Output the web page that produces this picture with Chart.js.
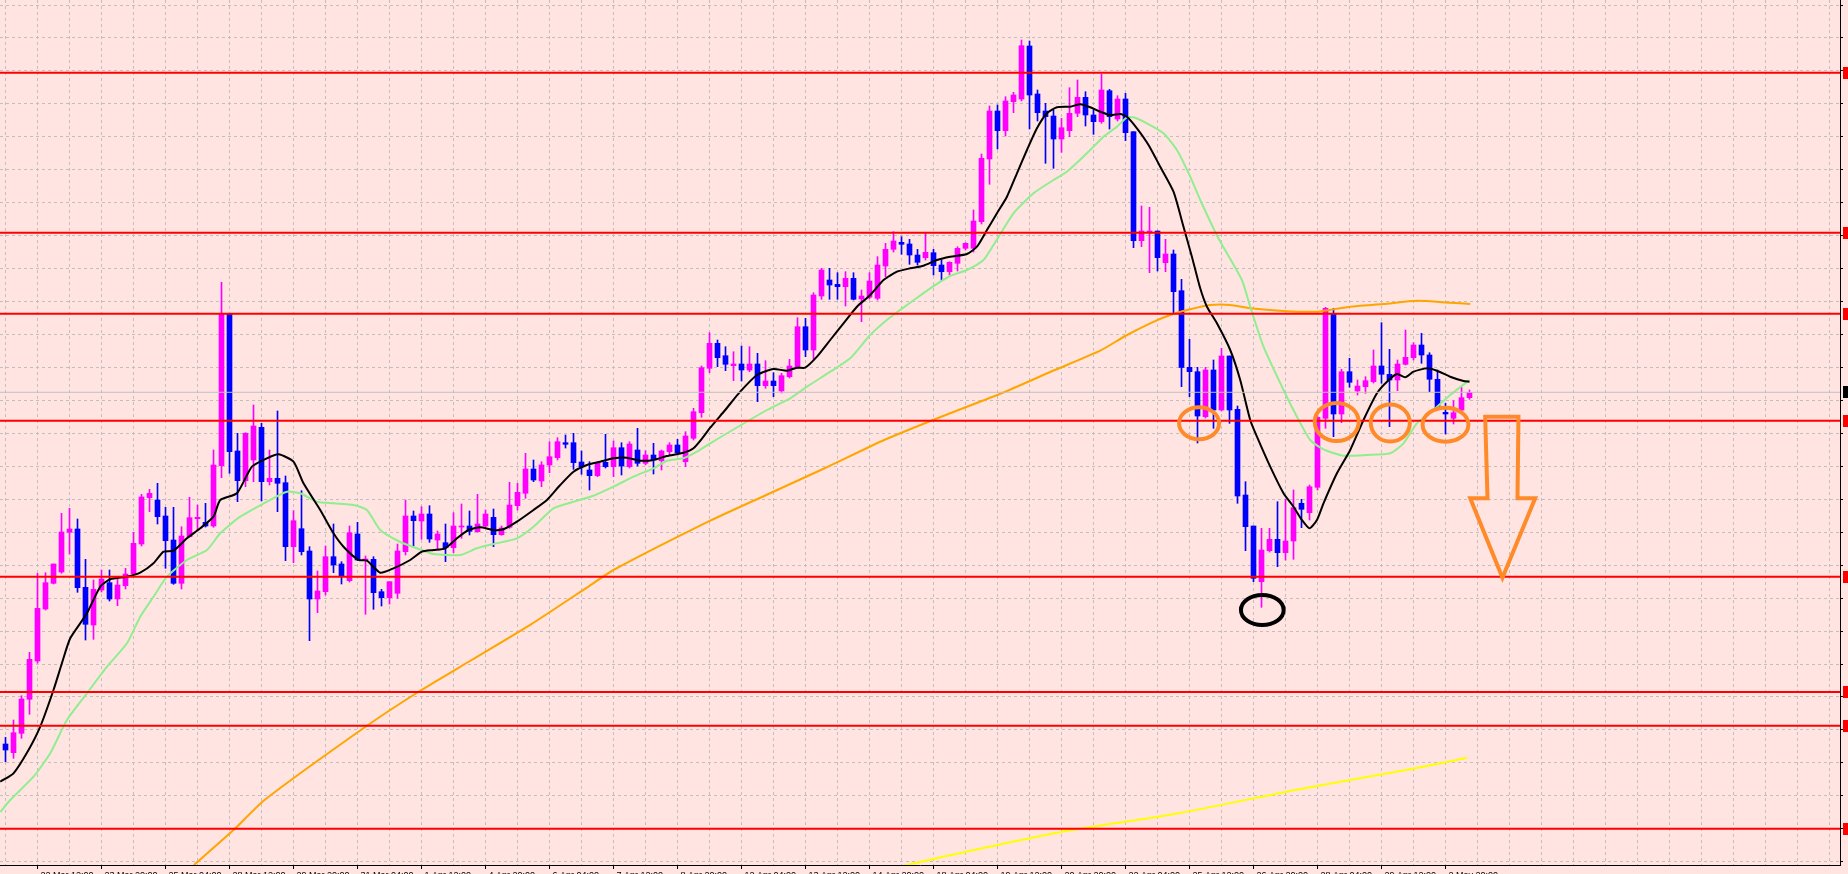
<!DOCTYPE html>
<html><head><meta charset="utf-8">
<script src="https://cdn.jsdelivr.net/npm/chart.js@4.4.1/dist/chart.umd.min.js"></script>
<style>
html,body{margin:0;padding:0;overflow:hidden;background:#FFE4E1;}
#wrap{width:1848px;height:874px;overflow:hidden;position:relative;}
canvas{display:block;}
</style></head><body>
<div id="wrap"><canvas id="c" width="1900" height="900"></canvas></div>
<script>
// ---- candle data (H4 bars, oldest first) ----
const opens = [132.56,132.473,132.667,133.007,133.39,133.91,134.167,134.28,134.677,134.71,
134.127,133.75,134.10,134.173,134.01,134.143,134.26,134.56,135.023,135.0,
134.84,134.60,134.167,134.633,134.813,134.777,134.74,135.343,136.857,135.49,
135.193,135.40,135.727,135.183,135.217,135.173,134.533,134.713,134.49,134.01,
134.083,134.433,134.36,134.193,134.66,134.40,134.407,134.083,134.023,134.067,
134.483,134.84,134.79,134.86,134.60,134.573,134.523,134.73,134.74,134.683,
134.74,134.827,134.653,134.727,134.943,135.067,135.31,135.19,135.35,135.423,
135.573,135.573,135.38,135.30,135.243,135.377,135.333,135.523,135.333,135.50,
135.367,135.45,135.393,135.483,135.55,135.383,135.617,135.873,136.317,136.567,
136.443,136.343,136.36,136.30,136.36,136.143,136.19,136.09,136.233,136.333,
136.733,136.50,137.04,137.20,137.157,137.133,137.217,137.01,137.027,137.017,
137.34,137.507,137.577,137.56,137.45,137.423,137.473,137.35,137.283,137.367,
137.517,137.517,137.783,138.41,138.89,138.693,138.983,139.01,139.54,139.06,
138.89,138.84,138.61,138.693,138.867,139.027,138.85,138.783,139.093,138.81,
139.01,138.683,137.593,137.673,137.69,137.373,137.46,137.093,136.327,136.283,
135.833,136.30,135.90,136.44,135.907,135.05,134.74,134.183,134.493,134.607,
134.473,134.59,134.967,134.873,135.127,135.817,136.867,135.86,136.283,136.09,
136.133,136.183,136.34,136.257,136.20,136.357,136.423,136.55,136.45,136.207,
135.877,135.817,135.90,136.023];
const highs = [132.627,132.80,133.043,133.477,134.267,134.273,134.36,134.867,134.917,134.81,
134.407,134.20,134.30,134.30,134.233,134.317,134.677,135.057,135.107,135.167,
134.927,134.927,134.733,135.027,134.95,134.967,135.50,137.177,136.857,135.667,
135.673,135.95,135.767,135.50,135.89,135.24,134.893,135.093,134.533,134.29,
134.54,134.76,134.383,134.74,134.777,134.44,134.433,134.107,134.183,134.56,
135.0,134.89,134.933,134.943,134.69,134.76,134.873,134.96,134.89,135.057,
134.90,134.91,134.74,135.177,135.167,135.467,135.40,135.383,135.583,135.623,
135.65,135.667,135.49,135.383,135.383,135.657,135.59,135.573,135.583,135.717,
135.493,135.567,135.50,135.573,135.607,135.683,135.917,136.34,136.673,136.60,
136.533,136.483,136.54,136.533,136.467,136.393,136.273,136.267,136.407,136.823,
136.817,137.073,137.317,137.317,137.273,137.283,137.273,137.10,137.273,137.433,
137.567,137.683,137.633,137.607,137.507,137.667,137.507,137.40,137.383,137.533,
137.573,137.90,138.46,138.94,138.95,139.033,139.077,139.60,139.59,139.10,
138.967,138.90,138.817,139.123,139.20,139.083,138.90,139.26,139.107,139.043,
139.067,138.683,137.94,137.927,137.69,137.607,137.50,137.207,136.607,136.327,
136.327,136.40,136.517,136.44,135.94,135.183,134.74,134.717,134.717,134.983,
135.007,135.10,135.007,135.15,135.84,136.927,136.917,136.307,136.417,136.20,
136.233,136.50,136.773,136.507,136.40,136.70,136.573,136.667,136.473,136.30,
135.967,135.993,136.127,136.10];
const lows = [132.383,132.417,132.617,132.857,133.367,133.90,134.16,134.267,134.46,134.077,
133.60,133.607,134.08,133.99,133.943,134.11,134.25,134.54,134.883,134.76,
134.317,134.157,134.11,134.63,134.70,134.73,134.727,135.223,135.267,134.983,
135.133,135.183,134.99,135.15,134.883,134.393,134.373,134.45,133.593,133.873,
134.05,134.273,134.16,134.18,134.393,133.857,133.907,133.94,133.96,134.017,
134.45,134.54,134.607,134.577,134.507,134.383,134.473,134.617,134.65,134.677,
134.733,134.533,134.647,134.717,134.90,135.017,135.183,135.133,135.273,135.40,
135.52,135.307,135.257,135.10,135.233,135.32,135.233,135.25,135.32,135.34,
135.35,135.26,135.30,135.45,135.45,135.333,135.60,135.827,136.273,136.333,
136.293,136.193,136.19,136.283,135.983,136.117,136.033,136.07,136.22,136.32,
136.433,136.407,137.007,137.007,137.007,136.94,137.0,136.783,137.01,137.0,
137.233,137.48,137.457,137.357,137.35,137.40,137.25,137.193,137.25,137.29,
137.50,137.48,137.76,138.157,138.51,138.64,138.873,138.99,138.71,138.79,
138.367,138.317,138.477,138.633,138.833,138.74,138.657,138.767,138.71,138.79,
138.593,137.523,137.533,137.273,137.29,137.283,136.867,136.133,136.033,135.57,
135.82,135.717,135.89,135.767,134.967,134.493,134.183,133.927,134.48,134.333,
134.40,134.407,134.723,134.80,135.10,135.717,135.633,135.773,136.127,136.05,
136.067,136.17,136.167,135.733,136.093,136.35,136.40,136.367,136.083,135.90,
135.66,135.76,135.88,136.007];
const closes = [132.50,132.673,133.01,133.407,133.917,134.173,134.36,134.68,134.71,134.123,
133.757,134.107,134.21,134.01,134.15,134.26,134.567,135.03,135.067,134.833,
134.593,134.167,134.64,134.823,134.827,134.74,135.35,136.857,135.483,135.193,
135.667,135.74,135.183,135.217,135.167,134.533,134.793,134.483,134.01,134.09,
134.433,134.35,134.233,134.673,134.40,134.41,134.073,134.023,134.183,134.49,
134.84,134.793,134.86,134.61,134.66,134.523,134.74,134.74,134.687,134.76,
134.86,134.653,134.72,134.95,135.077,135.31,135.20,135.35,135.433,135.583,
135.557,135.373,135.333,135.243,135.367,135.333,135.523,135.34,135.56,135.367,
135.45,135.40,135.49,135.55,135.473,135.64,135.883,136.323,136.567,136.423,
136.357,136.36,136.30,136.36,136.143,136.19,136.143,136.243,136.34,136.733,
136.50,137.05,137.30,137.15,137.133,137.217,137.007,137.04,137.19,137.35,
137.507,137.59,137.557,137.45,137.377,137.477,137.343,137.283,137.377,137.517,
137.567,137.79,138.417,138.89,138.693,138.99,139.05,139.543,139.05,138.873,
138.833,138.61,138.723,138.867,139.027,138.85,138.783,139.10,138.833,139.01,
138.673,137.593,137.69,137.69,137.423,137.46,137.083,136.325,136.283,135.84,
136.30,135.90,136.44,135.90,135.04,134.733,134.217,134.50,134.607,134.473,
134.59,134.923,134.907,135.133,135.827,136.917,135.86,136.283,136.177,136.14,
136.193,136.34,136.257,136.20,136.36,136.427,136.55,136.45,136.207,135.923,
135.86,135.873,136.023,136.077];

// ---- time axis labels (bar index where each label sits) ----
const timeLabels = ['22 Mar 12:00','23 Mar 20:00','25 Mar 04:00','28 Mar 12:00','29 Mar 20:00','31 Mar 04:00',
'1 Apr 12:00','4 Apr 20:00','6 Apr 04:00','7 Apr 12:00','8 Apr 20:00','12 Apr 04:00','13 Apr 12:00',
'14 Apr 20:00','18 Apr 04:00','19 Apr 12:00','20 Apr 20:00','22 Apr 04:00','25 Apr 12:00','26 Apr 20:00',
'28 Apr 04:00','29 Apr 12:00','2 May 20:00'];
const timeLabelBars = [4,12,20,28,36,44,52,60,68,76,84,92,100,108,116,124,132,140,148,156,164,172,180];

// ---- moving averages: [bar, price] ----
const maFast = [[-0.66,132.183],[1.0,132.267],[2.88,132.5],[4.34,132.733],[6.0,133.1],[7.05,133.367],[8.09,133.617],[10.18,133.867],[11.84,134.133],[13.09,134.207],[15.18,134.233],[16.84,134.273],[18.5,134.367],[19.75,134.483],[21.0,134.493],[22.68,134.617],[24.34,134.717],[26.0,134.833],[26.84,135.0],[28.93,135.067],[30.8,135.333],[32.68,135.417],[34.13,135.457],[36.0,135.383],[37.25,135.167],[39.34,134.9],[41.0,134.667],[42.25,134.533],[44.13,134.4],[45.18,134.393],[46.84,134.273],[48.5,134.317],[50.59,134.4],[52.05,134.483],[53.5,134.5],[54.96,134.517],[56.43,134.617],[57.88,134.7],[59.34,134.727],[61.0,134.7],[62.25,134.707],[63.93,134.783],[66.0,134.9],[67.68,135.0],[69.34,135.15],[71.0,135.283],[72.68,135.35],[74.34,135.383],[76.0,135.417],[77.68,135.423],[79.34,135.393],[81.0,135.4],[82.68,135.44],[84.75,135.473],[86.0,135.517],[87.25,135.633],[88.09,135.723],[89.96,135.9],[91.84,136.083],[93.93,136.25],[96.0,136.31],[97.68,136.293],[98.93,136.323],[99.96,136.323],[101.43,136.433],[103.09,136.6],[104.75,136.767],[106.43,136.933],[108.09,137.05],[109.75,137.2],[111.43,137.283],[113.09,137.317],[114.75,137.343],[116.43,137.4],[118.09,137.433],[120.18,137.46],[121.43,137.533],[122.68,137.7],[123.93,137.867],[125.18,138.033],[126.43,138.267],[127.68,138.5],[128.93,138.717],[130.18,138.867],[131.43,138.927],[133.09,138.933],[134.34,138.957],[135.59,138.927],[136.84,138.883],[138.09,138.85],[139.34,138.86],[140.18,138.833],[141.43,138.717],[142.88,138.55],[144.34,138.333],[146.0,138.083],[147.25,137.733],[148.3,137.433],[149.34,137.117],[150.18,136.933],[151.43,136.767],[153.09,136.5],[154.34,136.2],[155.59,135.8],[156.43,135.633],[158.09,135.333],[159.75,135.067],[161.0,134.933],[162.05,134.8],[163.0,134.717],[163.93,134.8],[164.75,134.967],[166.43,135.267],[168.09,135.5],[169.75,135.8],[171.43,136.067],[172.68,136.183],[173.93,136.26],[174.96,136.227],[176.0,136.283],[177.68,136.317],[178.93,136.293],[180.59,136.233],[182.25,136.19],[183.0,136.183]];
const maMid = [[-0.66,131.88],[0.59,132.0],[3.5,132.233],[5.59,132.467],[7.68,132.8],[10.18,133.067],[12.68,133.333],[15.18,133.567],[16.84,133.833],[18.5,134.033],[20.18,134.233],[22.68,134.4],[25.18,134.5],[26.84,134.667],[29.34,134.833],[32.68,134.983],[35.18,135.083],[36.84,135.067],[38.93,134.983],[41.0,134.967],[43.5,134.95],[45.18,134.9],[46.84,134.7],[49.34,134.58],[51.43,134.517],[53.5,134.46],[56.84,134.45],[58.93,134.517],[61.0,134.56],[63.93,134.617],[66.0,134.733],[68.5,134.917],[71.0,134.983],[73.5,135.043],[76.0,135.133],[78.5,135.233],[81.0,135.317],[82.68,135.393],[84.75,135.417],[86.43,135.483],[88.09,135.567],[95.18,135.9],[98.09,136.017],[100.18,136.133],[103.09,136.283],[105.59,136.417],[108.09,136.65],[110.59,136.827],[113.09,136.973],[115.59,137.117],[118.09,137.24],[120.18,137.3],[122.25,137.4],[123.5,137.55],[126.0,137.867],[128.5,138.067],[131.0,138.2],[132.68,138.283],[135.18,138.467],[137.25,138.633],[138.93,138.733],[140.18,138.827],[141.0,138.827],[142.68,138.767],[144.75,138.667],[146.43,138.5],[148.09,138.233],[149.34,138.0],[151.6,137.62],[154.55,137.2],[155.59,136.933],[157.25,136.533],[159.75,136.1],[161.43,135.833],[163.09,135.6],[164.75,135.507],[167.25,135.443],[170.18,135.45],[173.09,135.467],[174.75,135.567],[176.43,135.767],[178.5,135.9],[180.59,136.05],[183.0,136.2]];
const maSlow = [[23.55,131.35],[28.5,131.7],[32.38,132.0],[45.18,132.742],[51.59,133.08],[58.26,133.4],[65.64,133.754],[73.0,134.142],[76.0,134.3],[88.09,134.793],[95.09,135.05],[102.46,135.32],[109.84,135.6],[117.2,135.84],[124.59,136.07],[130.59,136.28],[136.84,136.493],[139.96,136.64],[143.09,136.767],[145.59,136.85],[148.09,136.907],[150.59,136.95],[153.09,136.95],[155.59,136.917],[159.75,136.89],[163.93,136.883],[168.09,136.933],[172.25,136.96],[176.43,136.993],[180.59,136.973],[183.09,136.96]];
const maLong = [[107.59,131.255],[117.2,131.432],[131.93,131.68],[146.66,131.868],[161.4,132.103],[176.09,132.316],[182.71,132.422]];

// ---- horizontal levels and drawn marks ----
const levels = [139.273,137.673,136.863,135.792,134.232,133.081,132.742,131.712];
const ellipseBar = [149.2,166.4,173.1,180.0];
const ellipsePrice = [135.767,135.78,135.77,135.753];
const ellipseHalfBars = [2.5,2.75,2.44,2.86];
const ellipseHalfPrice = [0.16,0.19,0.185,0.17];
const lowMark = [157.1,133.9,2.67,0.15];
const arrowOutline = [[184.96,135.833],[189.12,135.833],[189.0,135.017],[191.21,135.017],[187.12,134.223],[183.09,135.017],[185.25,135.017]];

// ---- chart ----
const X_MIN = -0.6875, X_MAX = X_MIN + 230;
const Y_MIN = 131.35, Y_MAX = 140;
const yGrid = []; for (let k = 0; k <= 26; k++) yGrid.push(139.95 - k * 0.3295);
const xGrid = []; for (let v = 0; v <= 228; v += 4) xGrid.push(v);
const labelAt = {}; timeLabelBars.forEach((b, i) => labelAt[b] = timeLabels[i]);

const BULL = '#FF00FF', BEAR = '#0000FF';
const idx = opens.map((_, i) => i);
const candleColor = idx.map(i => closes[i] >= opens[i] ? BULL : BEAR);
const pts = arr => arr.map(p => ({x: p[0], y: p[1]}));
const lastClose = closes[closes.length - 1];

const datasets = [];
levels.forEach(L => datasets.push({type:'line', data:[{x:X_MIN,y:L},{x:X_MAX,y:L}], borderColor:'#FF0000', borderWidth:2, pointRadius:0, order:0}));
datasets.push({type:'line', data:[{x:X_MIN,y:lastClose},{x:X_MAX,y:lastClose}], borderColor:'#C0C0C0', borderWidth:1, pointRadius:0, order:1});
datasets.push({type:'line', data:pts(maFast), borderColor:'#000000', borderWidth:2, pointRadius:0, tension:0.2, order:2});
datasets.push({type:'line', data:pts(maMid), borderColor:'#90EE90', borderWidth:2, pointRadius:0, tension:0.2, order:3});
datasets.push({type:'line', data:pts(maSlow), borderColor:'#FFA500', borderWidth:2, pointRadius:0, tension:0.2, order:4});
datasets.push({type:'line', data:pts(maLong), borderColor:'#FFFF00', borderWidth:2, pointRadius:0, tension:0.2, order:5});
datasets.push({type:'bar', data: idx.map(i => ({x:i, y:[opens[i], closes[i]]})), backgroundColor:candleColor, barThickness:5, minBarLength:1, grouped:false, order:9});
datasets.push({type:'bar', data: idx.map(i => ({x:i, y:[lows[i], highs[i]]})), backgroundColor:candleColor, barThickness:1, grouped:false, order:10});

const bgPlugin = {id:'bg', beforeDraw(c){ const x=c.ctx; x.save(); x.fillStyle='#FFE4E1'; x.fillRect(0,0,c.width,c.height); x.restore(); }};
const marksPlugin = {id:'marks', afterDatasetsDraw(c){
  const x = c.ctx, sx = c.scales.x, sy = c.scales.y;
  x.save();
  x.beginPath(); x.rect(c.chartArea.left, c.chartArea.top, c.chartArea.right-c.chartArea.left, c.chartArea.bottom-c.chartArea.top); x.clip();
  const ell = (n, p, rn, rp, col) => {
    const cx = sx.getPixelForValue(n), cy = sy.getPixelForValue(p);
    const rx = Math.abs(sx.getPixelForValue(n + rn) - cx), ry = Math.abs(sy.getPixelForValue(p + rp) - cy);
    x.beginPath(); x.ellipse(cx, cy, rx, ry, 0, 0, Math.PI*2); x.strokeStyle = col; x.lineWidth = 4; x.stroke();
  };
  ellipseBar.forEach((n, i) => ell(n, ellipsePrice[i], ellipseHalfBars[i], ellipseHalfPrice[i], '#FF8A2A'));
  ell(lowMark[0], lowMark[1], lowMark[2], lowMark[3], '#000000');
  x.beginPath();
  arrowOutline.forEach((p, i) => { const px = sx.getPixelForValue(p[0]), py = sy.getPixelForValue(p[1]); if (i) x.lineTo(px, py); else x.moveTo(px, py); });
  x.closePath(); x.strokeStyle = '#FF8A2A'; x.lineWidth = 4; x.lineJoin = 'miter'; x.stroke();
  x.restore();
}, afterDraw(c){
  const x = c.ctx, sy = c.scales.y, r = c.chartArea.right;
  x.save();
  levels.forEach(L => { x.fillStyle = '#FF0000'; x.fillRect(r + 3, Math.round(sy.getPixelForValue(L)) - 6, 40, 12); });
  x.fillStyle = '#000000'; x.fillRect(r + 3, Math.round(sy.getPixelForValue(lastClose)) - 6, 40, 12);
  x.restore();
}};

new Chart(document.getElementById('c'), {
  type: 'bar',
  data: {datasets},
  options: {
    responsive:false, animation:false, events:[],
    layout:{padding:0, autoPadding:false},
    plugins:{legend:{display:false}, tooltip:{enabled:false}},
    scales:{
      x:{type:'linear', position:'bottom', min:X_MIN, max:X_MAX, offset:false,
        grid:{offset:false, color:'#C0C0C0', lineWidth:1, tickLength:4, tickWidth:1,
          tickColor: ctx => (ctx.tick && labelAt[ctx.tick.value]) ? '#000000' : 'rgba(0,0,0,0)'},
        border:{display:true, color:'#000000', width:1, dash:[3,3]},
        ticks:{autoSkip:false, maxRotation:0, minRotation:0, align:'start', labelOffset:3, padding:1,
          font:{family:'Liberation Sans', size:9}, color:'#000000', callback: v => labelAt[v] || ''},
        afterBuildTicks: s => { s.ticks = xGrid.map(v => ({value:v})); },
        afterFit: s => { s.height = 35; }
      },
      y:{type:'linear', position:'right', min:Y_MIN, max:Y_MAX, beginAtZero:false,
        grid:{color:'#C0C0C0', lineWidth:1, tickLength:3, tickColor:'#000000'},
        border:{display:true, color:'#000000', width:1, dash:[3,3]},
        ticks:{display:false},
        afterBuildTicks: s => { s.ticks = yGrid.map(v => ({value:v})); },
        afterFit: s => { s.width = 60; }
      }
    }
  },
  plugins:[bgPlugin, marksPlugin]
});
</script>
</body></html>
